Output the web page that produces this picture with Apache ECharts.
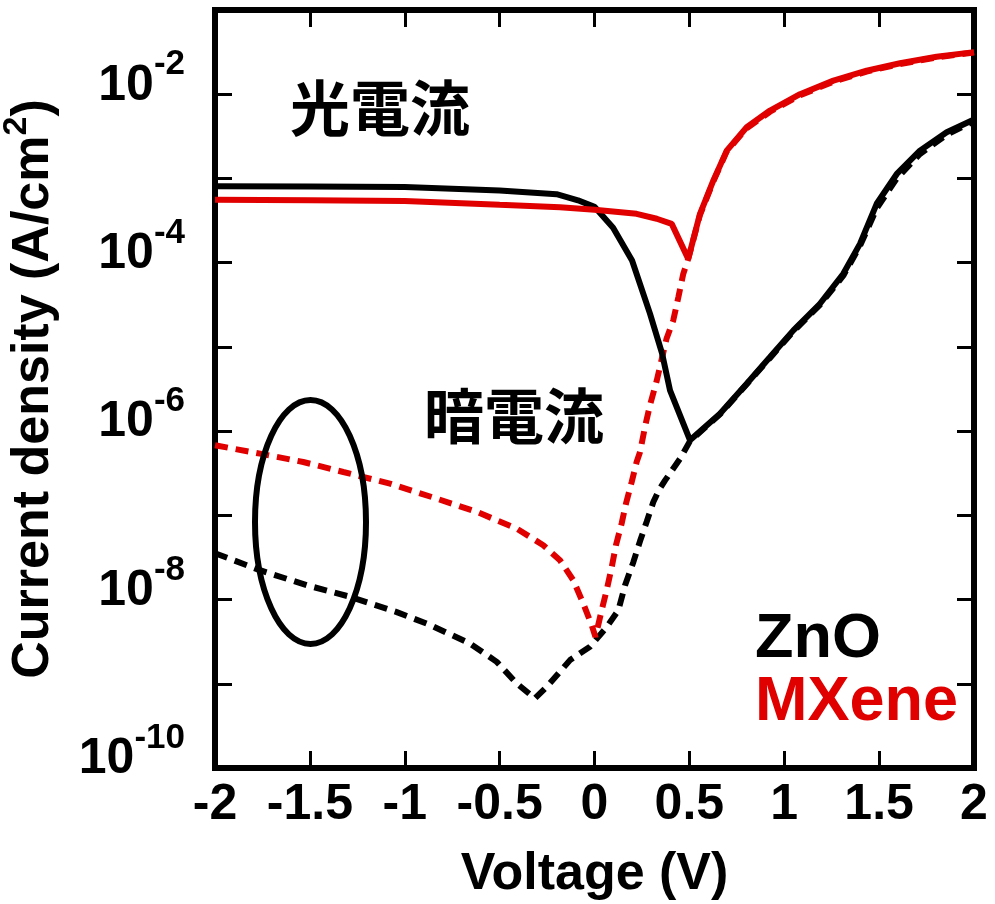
<!DOCTYPE html>
<html><head><meta charset="utf-8">
<script src="https://cdn.jsdelivr.net/npm/echarts@6/dist/echarts.min.js"></script>
<style>html,body{margin:0;padding:0;background:#fff}#c{width:995px;height:904px}</style>
</head><body><div id="c"></div>
<script>
// ---- data (Voltage in V, current density in A/cm^2) ----
const znoLightV = [-2, -1.5, -1, -0.5, -0.2, -0.087, 0, 0.098, 0.198, 0.292, 0.356, 0.398, 0.503, 0.661, 0.802, 0.925, 1.048, 1.188, 1.311, 1.399, 1.487, 1.593, 1.715, 1.856, 2.0];
const znoLightJ = [8.1e-4, 8.0e-4, 7.9e-4, 7.2e-4, 6.5e-4, 5.5e-4, 4.6e-4, 2.6e-4, 1.06e-4, 2.5e-5, 8.4e-6, 3.05e-6, 7.8e-7, 1.61e-6, 3.66e-6, 7.57e-6, 1.57e-5, 3.25e-5, 7.38e-5, 1.67e-4, 5.0e-4, 1.13e-3, 2.14e-3, 3.53e-3, 5.0e-3];

const znoDarkV = [-2, -1.763, -1.517, -1.289, -1.042, -0.867, -0.656, -0.515, -0.41, -0.314, -0.252, -0.129, -0.024, 0.064, 0.126, 0.161, 0.205, 0.24, 0.275, 0.31, 0.34, 0.372, 0.451, 0.503, 0.661, 0.802, 0.925, 1.048, 1.188, 1.311, 1.399, 1.487, 1.593, 1.715, 1.856, 2.0];
const znoDarkJ = [3.55e-8, 2.23e-8, 1.48e-8, 1.08e-8, 7.1e-9, 5.0e-9, 3.0e-9, 1.82e-9, 1.01e-9, 6.7e-10, 9.2e-10, 1.91e-9, 2.75e-9, 4.7e-9, 7.5e-9, 1.48e-8, 2.8e-8, 4.95e-8, 8.4e-8, 1.44e-7, 2.0e-7, 2.6e-7, 4.7e-7, 7.6e-7, 1.58e-6, 3.6e-6, 7.4e-6, 1.53e-5, 3.15e-5, 7.0e-5, 1.58e-4, 4.4e-4, 1.0e-3, 1.95e-3, 3.3e-3, 4.8e-3];

const mxLightV = [-2, -1.5, -1, -0.5, -0.182, 0, 0.222, 0.328, 0.407, 0.494, 0.556, 0.626, 0.697, 0.802, 0.925, 1.083, 1.259, 1.434, 1.61, 1.803, 2.0];
const mxLightJ = [5.6e-4, 5.5e-4, 5.4e-4, 4.86e-4, 4.55e-4, 4.24e-4, 3.8e-4, 3.32e-4, 2.89e-4, 1.11e-4, 3.8e-4, 9.4e-4, 2.14e-3, 4.06e-3, 6.4e-3, 1.0e-2, 1.45e-2, 1.9e-2, 2.33e-2, 2.79e-2, 3.16e-2];

const mxDarkV = [-2, -1.763, -1.535, -1.324, -1.078, -0.832, -0.621, -0.41, -0.27, -0.182, -0.112, -0.059, -0.015, 0.005, 0.038, 0.064, 0.091, 0.113, 0.143, 0.166, 0.196, 0.222, 0.24, 0.266, 0.292, 0.328, 0.38, 0.415, 0.442, 0.468, 0.494, 0.556, 0.626, 0.697, 0.802, 0.925, 1.083, 1.259, 1.434, 1.61, 1.803, 2.0];
const mxDarkJ = [6.8e-7, 5.4e-7, 4.3e-7, 3.27e-7, 2.38e-7, 1.58e-7, 1.1e-7, 6.97e-8, 4.42e-8, 2.93e-8, 1.7e-8, 8.97e-9, 4.97e-9, 3.6e-9, 7.5e-9, 1.29e-8, 2.44e-8, 4.42e-8, 8.0e-8, 1.38e-7, 2.49e-7, 4.3e-7, 5.65e-7, 1.12e-6, 2.02e-6, 3.98e-6, 1.26e-5, 2.06e-5, 3.9e-5, 7.4e-5, 1.11e-4, 3.7e-4, 9.2e-4, 2.1e-3, 3.95e-3, 6.2e-3, 9.7e-3, 1.41e-2, 1.86e-2, 2.28e-2, 2.74e-2, 3.12e-2];

const xTickValues = [-2, -1.5, -1, -0.5, 0, 0.5, 1, 1.5, 2];
const yLabelExponents = [-10, -8, -6, -4, -2];

const RED = '#E00000';
const FONT = '"Liberation Sans", Arial, Helvetica, sans-serif';
const CJK = '"Noto Sans CJK JP", "Noto Sans CJK SC", sans-serif';

function zip(a, b) { return a.map((v, i) => [v, b[i]]); }
function expOf(v) { return Math.round(Math.log10(v)); }

const chart = echarts.init(document.getElementById('c'), null, {renderer: 'canvas'});

const tickStyle = {show: true, inside: true, length: 17, lineStyle: {color: '#000', width: 3}};
const lineAxis = {show: true, onZero: false, lineStyle: {color: '#000', width: 6}};
const yLog = {type: 'log', logBase: 10, min: 1e-10, max: 1e-1, splitLine: {show: false}, minorTick: {show: false}};

const option = {
  animation: false,
  backgroundColor: '#fff',
  grid: {left: 215, right: 21, top: 10, bottom: 136, containLabel: false, outerBoundsMode: 'none',
    show: true, borderWidth: 6, borderColor: '#000', backgroundColor: 'transparent'},
  xAxis: [{
    type: 'value', position: 'bottom', min: -2, max: 2, interval: 0.5,
    axisLine: lineAxis, axisTick: tickStyle, splitLine: {show: false},
    axisLabel: {
      margin: 12, color: '#000', fontSize: 50, fontWeight: 'bold', fontFamily: FONT,
      formatter: v => xTickValues.indexOf(v) >= 0 ? String(v) : ''
    },
    name: 'Voltage (V)', nameLocation: 'middle', nameGap: 81,
    nameTextStyle: {color: '#000', fontSize: 52, fontWeight: 'bold', fontFamily: FONT}
  }, {
    type: 'value', position: 'top', min: -2, max: 2, interval: 0.5,
    axisLine: lineAxis, axisTick: tickStyle, splitLine: {show: false}, axisLabel: {show: false}
  }],
  yAxis: [Object.assign({}, yLog, {
    position: 'left',
    axisLine: lineAxis, axisTick: tickStyle,
    axisLabel: {
      margin: 30, color: '#000', fontFamily: FONT, fontWeight: 'bold', fontSize: 50,
      formatter: function (v) {
        const e = expOf(v);
        if (yLabelExponents.indexOf(e) < 0) return '';
        return '{b|10}{h|' + e + '}\n{g| }';
      },
      rich: {
        b: {fontSize: 50, fontWeight: 'bold', fontFamily: FONT, color: '#000', lineHeight: 50},
        h: {fontSize: 35, fontWeight: 'bold', fontFamily: FONT, color: 'rgba(0,0,0,0)', lineHeight: 35},
        g: {fontSize: 10, fontFamily: FONT, color: 'rgba(0,0,0,0)', lineHeight: 17}
      }
    },
    name: 'Current density (A/cm{sup|2})', nameLocation: 'middle', nameGap: 125, nameRotate: 90,
    nameTextStyle: {
      color: '#000', fontSize: 52, fontWeight: 'bold', fontFamily: FONT, lineHeight: 68,
      rich: {sup: {fontSize: 34, fontWeight: 'bold', fontFamily: FONT, color: '#000', verticalAlign: 'top', lineHeight: 68}}
    }
  }), Object.assign({}, yLog, {
    position: 'right',
    axisLine: lineAxis, axisTick: tickStyle, axisLabel: {show: false}
  }), Object.assign({}, yLog, {
    // superscript exponents of the left axis labels
    position: 'left',
    axisLine: {show: false}, axisTick: {show: false},
    axisLabel: {
      margin: 30, color: '#000', fontFamily: FONT, fontWeight: 'bold', fontSize: 35,
      formatter: function (v) {
        const e = expOf(v);
        return yLabelExponents.indexOf(e) < 0 ? '' : '{e|' + e + '}\n{g| }';
      },
      rich: {
        e: {fontSize: 35, fontWeight: 'bold', fontFamily: FONT, color: '#000', lineHeight: 35},
        g: {fontSize: 10, fontFamily: FONT, color: 'rgba(0,0,0,0)', lineHeight: 59}
      }
    }
  })],
  series: [
    {name: 'ZnO dark', type: 'line', data: zip(znoDarkV, znoDarkJ), symbol: 'none', z: 2,
      lineStyle: {color: '#000', width: 6, type: [13, 8], cap: 'butt'}},
    {name: 'MXene dark', type: 'line', data: zip(mxDarkV, mxDarkJ), symbol: 'none', z: 2,
      lineStyle: {color: RED, width: 6, type: [13, 8], cap: 'butt'}},
    {name: 'ZnO light', type: 'line', data: zip(znoLightV, znoLightJ), symbol: 'none', z: 3,
      lineStyle: {color: '#000', width: 6}},
    {name: 'MXene light', type: 'line', data: zip(mxLightV, mxLightJ), symbol: 'none', z: 3,
      lineStyle: {color: RED, width: 6}}
  ],
  graphic: [
    {type: 'text', x: 380, y: 108, z: 10, style: {text: '光電流', fill: '#000', font: 'bold 60px ' + CJK, align: 'center', verticalAlign: 'middle'}},
    {type: 'text', x: 514, y: 416, z: 10, style: {text: '暗電流', fill: '#000', font: 'bold 60px ' + CJK, align: 'center', verticalAlign: 'middle'}},
    {type: 'text', x: 755, y: 640, z: 10, style: {text: 'ZnO', fill: '#000', font: 'bold 63px ' + FONT, align: 'left', verticalAlign: 'middle'}},
    {type: 'text', x: 755, y: 703, z: 10, style: {text: 'MXene', fill: RED, font: 'bold 63px ' + FONT, align: 'left', verticalAlign: 'middle'}},
    {type: 'ellipse', z: 10, shape: {cx: 310.5, cy: 522, rx: 55.5, ry: 122}, style: {fill: 'none', stroke: '#000', lineWidth: 6}}
  ]
};
chart.setOption(option);
</script>
</body></html>
